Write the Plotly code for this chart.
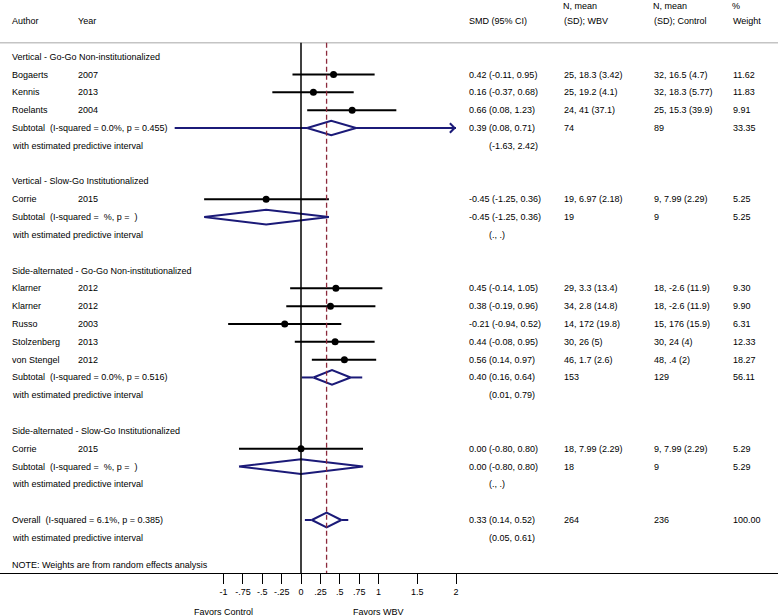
"""
Forest plot: whole body vibration (WBV) vs control, SMD with 95% CI
"""
import plotly.graph_objects as go

# ---- study level data ----
study_author = ["Bogaerts", "Kennis", "Roelants", "Corrie", "Klarner", "Klarner",
                "Russo", "Stolzenberg", "von Stengel", "Corrie"]
study_year = [2007, 2013, 2004, 2015, 2012, 2012, 2003, 2013, 2012, 2015]
study_group = [0, 0, 0, 1, 2, 2, 2, 2, 2, 3]
study_smd = [0.42, 0.16, 0.66, -0.45, 0.45, 0.38, -0.21, 0.44, 0.56, 0.00]
study_lo = [-0.11, -0.37, 0.08, -1.25, -0.14, -0.19, -0.94, -0.08, 0.14, -0.80]
study_hi = [0.95, 0.68, 1.23, 0.36, 1.05, 0.96, 0.52, 0.95, 0.97, 0.80]
wbv_n = [25, 25, 24, 19, 29, 34, 14, 30, 46, 18]
wbv_stats = ["18.3 (3.42)", "19.2 (4.1)", "41 (37.1)", "6.97 (2.18)", "3.3 (13.4)",
             "2.8 (14.8)", "172 (19.8)", "26 (5)", "1.7 (2.6)", "7.99 (2.29)"]
ctrl_n = [32, 32, 25, 9, 18, 18, 15, 30, 48, 9]
ctrl_stats = ["16.5 (4.7)", "18.3 (5.77)", "15.3 (39.9)", "7.99 (2.29)", "-2.6 (11.9)",
              "-2.6 (11.9)", "176 (15.9)", "24 (4)", ".4 (2)", "7.99 (2.29)"]
study_weight = [11.62, 11.83, 9.91, 5.25, 9.30, 9.90, 6.31, 12.33, 18.27, 5.29]

# ---- subgroup data ----
group_names = ["Vertical - Go-Go Non-institutionalized",
               "Vertical - Slow-Go Institutionalized",
               "Side-alternated - Go-Go Non-institutionalized",
               "Side-alternated - Slow-Go Institutionalized"]
group_het = ["I-squared = 0.0%, p = 0.455", "I-squared =  %, p =  ",
             "I-squared = 0.0%, p = 0.516", "I-squared =  %, p =  "]
group_smd = [0.39, -0.45, 0.40, 0.00]
group_lo = [0.08, -1.25, 0.16, -0.80]
group_hi = [0.71, 0.36, 0.64, 0.80]
group_pi_lo = [-1.63, None, 0.01, None]
group_pi_hi = [2.42, None, 0.79, None]
group_n_wbv = [74, 19, 153, 18]
group_n_ctrl = [89, 9, 129, 9]
group_weight = [33.35, 5.25, 56.11, 5.29]

# ---- overall ----
overall_het = "I-squared = 6.1%, p = 0.385"
overall_smd, overall_lo, overall_hi = 0.33, 0.14, 0.52
overall_pi = (0.05, 0.61)
overall_n_wbv, overall_n_ctrl, overall_weight = 264, 236, 100.00

# ---- x axis ----
tick_vals = [-1, -0.75, -0.5, -0.25, 0, 0.25, 0.5, 0.75, 1, 1.5, 2]
tick_text = ["-1", "-.75", "-.5", "-.25", "0", ".25", ".5", ".75", "1", "1.5", "2"]
x_max = 2

# layout geometry (pixels)
W, H = 778, 616
PX0, PX_PER_UNIT = 301, 77.5          # pixel of x=0 and pixels per unit
ROW0, ROW_H = 56.7, 17.82             # pixel of row 0 and row height
AXIS_PX = 573
HEADER_LINE_PX = 42.7
FONT = "Liberation Sans, Arial, Helvetica, sans-serif"
FS = 9
NAVY = "#1b1a78"

col_author, col_year, col_smd, col_wbv, col_ctrl, col_w = 10, 76, 467, 562, 652, 731
col_pi = 487


def fmt_ci(e, lo, hi):
    return f"{e:.2f} ({lo:.2f}, {hi:.2f})"


texts = []  # (pixel x, row, text)
ci_x, ci_y, dot_x, dot_y = [], [], [], []
dia_x, dia_y = [], []
pi_x, pi_y = [], []
arrows = []

DH = 0.41  # diamond half height, in rows


def add_diamond(row, e, lo, hi, pi_lo=None, pi_hi=None):
    dia_x.extend([lo, e, hi, e, lo, None])
    dia_y.extend([row, row - DH, row, row + DH, row, None])
    if pi_lo is not None:
        pi_x.extend([pi_lo, lo, None, hi, min(pi_hi, x_max), None])
        pi_y.extend([row, row, None, row, row, None])
        if pi_hi > x_max:
            arrows.append(row)


row = 0
for g, name in enumerate(group_names):
    texts.append((col_author, row, name))
    row += 1
    for i in range(len(study_author)):
        if study_group[i] != g:
            continue
        texts.append((col_author, row, study_author[i]))
        texts.append((col_year, row, str(study_year[i])))
        texts.append((col_smd, row, fmt_ci(study_smd[i], study_lo[i], study_hi[i])))
        texts.append((col_wbv, row, f"{wbv_n[i]}, {wbv_stats[i]}"))
        texts.append((col_ctrl, row, f"{ctrl_n[i]}, {ctrl_stats[i]}"))
        texts.append((col_w, row, f"{study_weight[i]:.2f}"))
        ci_x.extend([study_lo[i], study_hi[i], None])
        ci_y.extend([row, row, None])
        dot_x.append(study_smd[i])
        dot_y.append(row)
        row += 1
    texts.append((col_author, row, "Subtotal\u00a0 (" + group_het[g].replace("  ", "\u00a0 ") + ")"))
    texts.append((col_smd, row, fmt_ci(group_smd[g], group_lo[g], group_hi[g])))
    texts.append((col_wbv, row, str(group_n_wbv[g])))
    texts.append((col_ctrl, row, str(group_n_ctrl[g])))
    texts.append((col_w, row, f"{group_weight[g]:.2f}"))
    add_diamond(row, group_smd[g], group_lo[g], group_hi[g], group_pi_lo[g], group_pi_hi[g])
    row += 1
    texts.append((col_author, row, "with estimated predictive interval"))
    if group_pi_lo[g] is None:
        texts.append((col_pi, row, "(., .)"))
    else:
        texts.append((col_pi, row, f"({group_pi_lo[g]:.2f}, {group_pi_hi[g]:.2f})"))
    row += 2

texts.append((col_author, row, "Overall\u00a0 (" + overall_het + ")"))
texts.append((col_smd, row, fmt_ci(overall_smd, overall_lo, overall_hi)))
texts.append((col_wbv, row, str(overall_n_wbv)))
texts.append((col_ctrl, row, str(overall_n_ctrl)))
texts.append((col_w, row, f"{overall_weight:.2f}"))
add_diamond(row, overall_smd, overall_lo, overall_hi, overall_pi[0], overall_pi[1])
row += 1
texts.append((col_author, row, "with estimated predictive interval"))
texts.append((col_pi, row, f"({overall_pi[0]:.2f}, {overall_pi[1]:.2f})"))
texts.append((col_author, row + 1.5, "NOTE: Weights are from random effects analysis"))

# header (second line of header sits on row -2)
texts += [
    (col_author, -2, "Author"), (col_year, -2, "Year"), (col_smd, -2, "SMD (95% CI)"),
    (col_wbv, -2, "(SD); WBV"), (col_ctrl, -2, "(SD); Control"), (col_w, -2, "Weight"),
]
top_texts = [(col_wbv, "N, mean"), (col_ctrl, "N, mean"), (col_w, "%")]

fig = go.Figure()
fig.add_trace(go.Scatter(x=pi_x, y=pi_y, mode="lines", line=dict(color=NAVY, width=2)))
fig.add_trace(go.Scatter(x=ci_x, y=ci_y, mode="lines", line=dict(color="black", width=2)))
fig.add_trace(go.Scatter(x=dot_x, y=dot_y, mode="markers", marker=dict(color="black", size=7)))
fig.add_trace(go.Scatter(x=dia_x, y=dia_y, mode="lines", line=dict(color=NAVY, width=2)))

text_font = dict(family=FONT, size=FS, color="black")
annotations = [
    dict(x=px / W, xref="paper", y=r, yref="y", text=t, showarrow=False,
         xanchor="left", yanchor="middle", font=text_font)
    for px, r, t in texts
]
annotations += [
    dict(x=px / W, xref="paper", y=1, yref="paper", text=t, showarrow=False,
         xanchor="left", yanchor="top", borderpad=0, font=text_font)
    for px, t in top_texts
]
for r in arrows:
    annotations.append(dict(x=x_max, y=r, xref="x", yref="y", ax=-9, ay=0, text="",
                            showarrow=True, arrowhead=4, arrowsize=0.9, arrowwidth=2,
                            arrowcolor=NAVY))
annotations.append(dict(x=-1, y=0, xref="x", yref="paper", text="Favors Control", showarrow=False,
                        yanchor="bottom", borderpad=0, yshift=-2, font=text_font))
annotations.append(dict(x=1, y=0, xref="x", yref="paper", text="Favors WBV", showarrow=False,
                        yanchor="bottom", borderpad=0, yshift=-2, font=text_font))

y_top = 1 - HEADER_LINE_PX / H
y_axis = 1 - AXIS_PX / H
shapes = [
    dict(type="line", xref="paper", yref="paper", x0=0, x1=1, y0=y_top, y1=y_top,
         line=dict(color="#c4c4c4", width=1.5)),
    dict(type="line", xref="x", yref="paper", x0=0, x1=0, y0=y_top, y1=y_axis,
         line=dict(color="black", width=1.5)),
    dict(type="line", xref="x", yref="paper", x0=overall_smd, x1=overall_smd, y0=y_top, y1=y_axis,
         line=dict(color="#8c2a3c", width=1.3, dash="5px,3px")),
]

fig.update_layout(
    width=W, height=H,
    margin=dict(l=0, r=0, t=0, b=0),
    paper_bgcolor="white", plot_bgcolor="white",
    showlegend=False,
    annotations=annotations,
    shapes=shapes,
    xaxis=dict(range=[-PX0 / PX_PER_UNIT, (W - PX0) / PX_PER_UNIT],
               anchor="free", position=y_axis,
               tickvals=tick_vals, ticktext=tick_text,
               ticks="outside", ticklen=10, tickwidth=1.3, tickcolor="black",
               showline=True, linecolor="black", linewidth=1.3,
               showgrid=False, zeroline=False,
               tickfont=text_font),
    yaxis=dict(range=[(H - ROW0) / ROW_H, -ROW0 / ROW_H],
               visible=False, showgrid=False, zeroline=False),
)

# remove the default page margin so the figure sits at the window's top-left corner
fig.write_html("out.html", config={"displayModeBar": False},
               post_script="document.body.style.margin='0';")
